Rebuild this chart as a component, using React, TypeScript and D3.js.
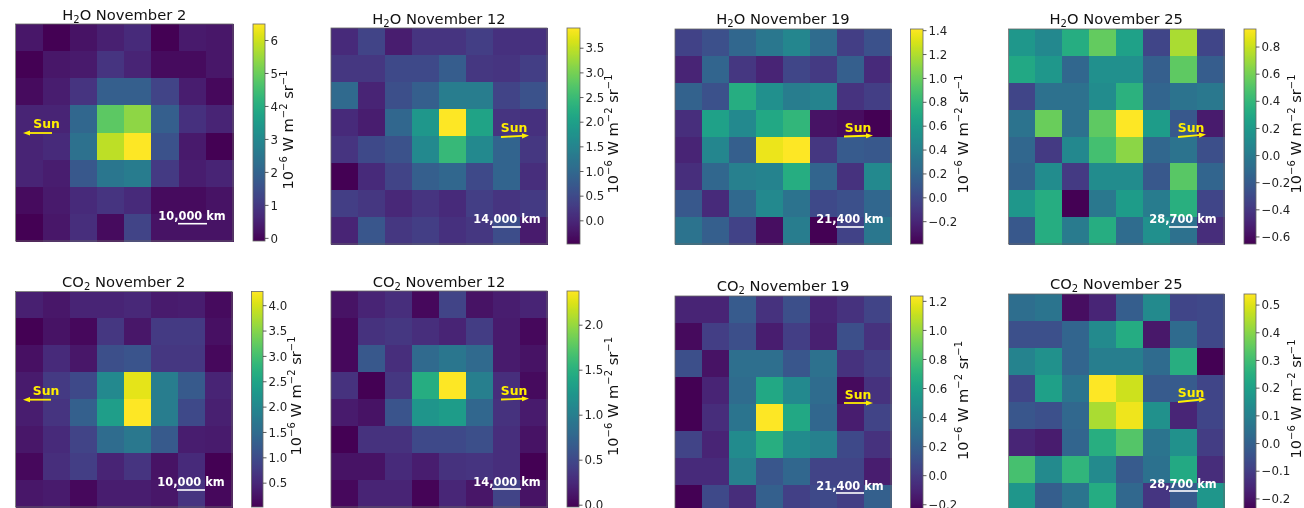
import React from "react";
import * as d3 from "d3";

const h2oNov2 = [
  [.31,-.08,.25,.51,.71,-.08,.38,.31],
  [-.08,.31,.38,.91,.58,.12,.12,.31],
  [.12,.45,.91,1.89,1.89,1.24,.45,.05],
  [.58,.58,2.09,4.85,5.38,1.89,.84,.58],
  [.58,.71,2.35,5.84,6.5,1.57,.38,-.08],
  [.58,.45,1.7,2.5,2.65,1.04,.45,.58],
  [.12,.38,.71,.91,.71,.12,.12,.25],
  [-.08,.31,.78,.12,1.24,.25,.25,.25],
];
const h2oNov12 = [
  [.06,.41,-.12,.19,.19,.32,.14,.14],
  [.23,.23,.49,.49,.80,.23,.19,.32],
  [1.02,-.03,.58,.84,1.37,1.37,.41,.63],
  [.06,-.12,.98,1.85,3.91,2.07,.19,.14],
  [.19,.49,.63,1.59,2.46,1.59,.93,.23],
  [-.47,.06,.41,.84,.98,.49,.93,.10],
  [.32,.23,.01,.19,.06,.32,.19,.27],
  [-.03,.71,.23,.32,.14,.23,.54,-.16],
];
const h2oNov19 = [
  [-.03,.05,.21,.33,.44,.24,-.06,.06],
  [-.21,.19,-.10,-.21,-.01,-.08,.15,-.17],
  [.17,.06,.73,.51,.37,.42,-.12,-.06],
  [-.15,.64,.46,.69,.80,-.30,-.33,-.39],
  [-.21,.44,.15,1.36,1.41,-.10,.12,.10],
  [-.15,.21,.39,.42,.73,.19,-.13,.46],
  [.10,-.17,.22,.46,.30,.01,.05,.21],
  [.30,.15,-.03,-.32,.37,-.39,-.03,.33],
];
const h2oNov25 = [
  [.19,.09,.33,.55,.25,-.33,.73,-.33],
  [.30,.19,-.13,.14,.14,-.18,.54,-.19],
  [-.33,-.07,-.07,.11,.36,-.14,-.05,-.02],
  [-.05,.57,-.07,.54,.93,.22,-.22,-.54],
  [-.13,-.38,.09,.46,.66,-.13,-.05,-.27],
  [-.16,.11,-.38,.11,.11,-.22,.52,-.14],
  [.19,.33,-.65,-.02,.22,.01,.35,-.33],
  [-.22,.33,0,.33,-.10,.14,-.07,-.45],
];
const co2Nov2 = [
  [.41,.29,.46,.46,.50,.33,.37,.16],
  [.03,.24,.12,.71,.29,.75,.75,.20],
  [.20,.54,.29,1.05,1.14,.71,.71,.12],
  [.33,.75,.97,2.03,4.11,1.82,1.22,.46],
  [.37,.67,1.31,2.4,4.28,1.82,.97,.41],
  [.29,.54,.88,1.52,1.73,1.22,.37,.33],
  [.12,.58,.80,.46,.67,.24,.54,.03],
  [.29,.33,.12,.37,.37,.29,.67,.12],
];
const co2Nov12 = [
  [.10,.22,.29,.03,.46,.10,.17,.22],
  [.03,.32,.36,.29,.22,.41,.15,.03],
  [.03,.63,.29,.80,.92,.80,.15,.10],
  [.32,-.02,.36,1.47,2.38,1.01,.29,.05],
  [.15,.10,.60,1.23,1.30,.77,.32,.15],
  [-.02,.32,.32,.51,.51,.56,.29,.10],
  [.10,.10,.27,.17,.32,.34,.29,-.02],
  [.03,.22,.22,0,.24,.12,.46,.10],
];
const co2Nov19 = [
  [-.10,-.10,.17,-.04,.11,-.10,-.04,.05],
  [-.21,.02,.11,-.13,.02,-.12,.11,-.04],
  [.11,-.18,.29,.29,.15,.30,-.04,.02],
  [-.25,-.10,.27,.64,.45,.27,-.21,-.04],
  [-.25,-.06,.32,1.24,.64,.24,-.13,.05],
  [.05,-.10,.46,.68,.46,.40,.08,-.04],
  [-.07,-.07,.39,.15,.24,.05,.05,-.13],
  [-.25,.08,-.06,.20,.03,.08,.02,.20],
];
const co2Nov25 = [
  [.04,.06,-.21,-.16,-.01,.13,-.08,-.07],
  [-.05,-.05,.01,.13,.24,-.19,.03,-.07],
  [.11,.15,.01,.09,.09,.03,.25,-.24],
  [-.08,.20,.06,.54,.48,-.02,-.02,-.08],
  [-.03,-.05,.02,.44,.52,.15,-.16,-.08],
  [-.16,-.18,.01,.25,.33,.06,.15,-.10],
  [.31,.13,.27,.13,-.02,.05,.23,-.14],
  [.17,-.01,.06,.24,.02,-.12,-.02,.17],
];

const ticks0 = [0,1,2,3,4,5,6];
const ticks1 = [0,.5,1,1.5,2,2.5,3,3.5];
const ticks2 = [-.2,0,.2,.4,.6,.8,1,1.2,1.4];
const ticks3 = [-.6,-.4,-.2,0,.2,.4,.6,.8];
const ticks4 = [.5,1,1.5,2,2.5,3,3.5,4];
const ticks5 = [0,.5,1,1.5,2];
const ticks6 = [-.2,0,.2,.4,.6,.8,1,1.2];
const ticks7 = [-.2,-.1,0,.1,.2,.3,.4,.5];

const panels = [
  { mol:"H", sub:"2", post:"O November 2", grid:h2oNov2, ticks:ticks0, fmt:"d", dom:[-.08,6.5], scale:"10,000 km",
    x0:15.5,x1:233,y0:24,y1:241,cb0:253,cb1:265,titleY:20,
    sun:[52,133,23,133,46.5,128], bar:[178,207,223.7,192,220], lab:[293,130] },
  { mol:"H", sub:"2", post:"O November 12", grid:h2oNov12, ticks:ticks1, fmt:".1f", dom:[-.47,3.91], scale:"14,000 km",
    x0:331,x1:547,y0:28,y1:244,cb0:567,cb1:580,titleY:24,
    sun:[501,137,529,135.5,514,132], bar:[492,521,227,507,223], lab:[618,134] },
  { mol:"H", sub:"2", post:"O November 19", grid:h2oNov19, ticks:ticks2, fmt:".1f", dom:[-.387,1.414], scale:"21,400 km",
    x0:675,x1:891,y0:29,y1:244,cb0:910.5,cb1:923,titleY:24,
    sun:[844,136.5,873,135.5,858,132], bar:[836,864,227,850,223], lab:[968,134] },
  { mol:"H", sub:"2", post:"O November 25", grid:h2oNov25, ticks:ticks3, fmt:".1f", dom:[-.652,.933], scale:"28,700 km",
    x0:1008.5,x1:1224,y0:29,y1:244,cb0:1244,cb1:1256,titleY:24,
    sun:[1178,137,1206,134.5,1191,132], bar:[1169,1198,227,1183,223], lab:[1300.5,134] },
  { mol:"CO", sub:"2", post:" November 2", grid:co2Nov2, ticks:ticks4, fmt:".1f", dom:[.03,4.28], scale:"10,000 km",
    x0:15.5,x1:232,y0:291.5,y1:507,cb0:251.5,cb1:263,titleY:287,
    sun:[51,399.7,23,399.7,46,395], bar:[177,205,490,191,486], lab:[301,396] },
  { mol:"CO", sub:"2", post:" November 12", grid:co2Nov12, ticks:ticks5, fmt:".1f", dom:[-.02,2.38], scale:"14,000 km",
    x0:331,x1:547,y0:291,y1:507,cb0:567,cb1:579,titleY:287,
    sun:[501,399.5,529,398.5,514,395], bar:[492,521,489,507,486], lab:[618,396.5] },
  { mol:"CO", sub:"2", post:" November 19", grid:co2Nov19, ticks:ticks6, fmt:".1f", dom:[-.25,1.237], scale:"21,400 km",
    x0:675,x1:891,y0:296,y1:512,cb0:910.5,cb1:923,titleY:291,
    sun:[844,403,873,403,858,399], bar:[836,864,493,850,490], lab:[968,400.5] },
  { mol:"CO", sub:"2", post:" November 25", grid:co2Nov25, ticks:ticks7, fmt:".1f", dom:[-.24,.54], scale:"28,700 km",
    x0:1008.5,x1:1224,y0:294,y1:510,cb0:1244,cb1:1256,titleY:289,
    sun:[1178,402,1206,399,1191,397], bar:[1169,1198,491,1183,488], lab:[1300.5,399] },
];

const FONT = "'DejaVu Sans', sans-serif";
const idx = d3.range(8);
const stops = d3.range(0, 1.0001, 0.01);
const YEL = "#ffee00";

function Panel({ p, i }: any) {
  const x = d3.scaleBand<number>().domain(idx).range([p.x0, p.x1]);
  const y = d3.scaleBand<number>().domain(idx).range([p.y0, p.y1]);
  const color = d3.scaleSequential(d3.interpolateViridis).domain(p.dom);
  const cy = d3.scaleLinear().domain(p.dom).range([p.y1, p.y0]);
  const fmt = d3.format(p.fmt);
  const [sx0, sy0, sx1, sy1, stx, sty] = p.sun;
  const [bx0, bx1, by, btx, bty] = p.bar;
  const ang = Math.atan2(sy1 - sy0, sx1 - sx0);
  const head = 7, hw = 2.6;
  const bx = sx1 - head * Math.cos(ang), byy = sy1 - head * Math.sin(ang);
  const nx = -Math.sin(ang) * hw, ny = Math.cos(ang) * hw;
  return (
    <g>
      <text x={(p.x0 + p.x1) / 2} y={p.titleY} textAnchor="middle" fontSize={14.7} fill="#111">
        {p.mol}<tspan fontSize={10} dy={3}>{p.sub}</tspan><tspan dy={-3}>{p.post}</tspan>
      </text>
      <g shapeRendering="crispEdges">
        {p.grid.map((row: number[], r: number) =>
          row.map((v: number, c: number) => (
            <rect key={c} x={x(c)} y={y(r)} width={x.bandwidth() + 0.5} height={y.bandwidth() + 0.5} fill={color(v)} />
          ))
        )}
      </g>
      <rect x={p.x0} y={p.y0} width={p.x1 - p.x0} height={p.y1 - p.y0} fill="none" stroke="#666" strokeWidth={0.8} />
      <linearGradient id={`cb${i}`} x1="0" x2="0" y1="1" y2="0">
        {stops.map((s) => (
          <stop key={s} offset={s} stopColor={d3.interpolateViridis(s)} />
        ))}
      </linearGradient>
      <rect x={p.cb0} y={p.y0} width={p.cb1 - p.cb0} height={p.y1 - p.y0} fill={`url(#cb${i})`} stroke="#666" strokeWidth={0.8} />
      {p.ticks.map((t: number) => (
        <g key={t}>
          <line x1={p.cb1} x2={p.cb1 + 3.5} y1={cy(t)} y2={cy(t)} stroke="#333" strokeWidth={0.8} />
          <text x={p.cb1 + 5.5} y={cy(t) + 4.2} fontSize={11.8} fill="#222">
            {fmt(t).replace("-", "\u2212")}
          </text>
        </g>
      ))}
      <text transform={`translate(${p.lab[0]},${p.lab[1]}) rotate(-90)`} textAnchor="middle" fontSize={14.6} fill="#111">
        10<tspan fontSize={10} dy={-6}>{"\u22126"}</tspan>
        <tspan dy={6}> W m</tspan><tspan fontSize={10} dy={-6}>{"\u22122"}</tspan>
        <tspan dy={6}> sr</tspan><tspan fontSize={10} dy={-6}>{"\u22121"}</tspan>
      </text>
      <line x1={sx0} y1={sy0} x2={bx} y2={byy} stroke={YEL} strokeWidth={1.8} />
      <polygon points={`${sx1},${sy1} ${bx + nx},${byy + ny} ${bx - nx},${byy - ny}`} fill={YEL} />
      <text x={stx} y={sty} textAnchor="middle" fontSize={12.4} fontWeight="bold" fill={YEL}>Sun</text>
      <line x1={bx0} x2={bx1} y1={by} y2={by} stroke="#fff" strokeWidth={1.6} />
      <text x={btx} y={bty} textAnchor="middle" fontSize={11.4} fontWeight="bold" fill="#fff">{p.scale}</text>
    </g>
  );
}

export default function App() {
  return (
    <svg width={1304} height={508} style={{ position: "absolute", left: 0, top: 0, background: "#fff", filter: "blur(0.35px)" }} fontFamily={FONT}>
      {panels.map((p, i) => (
        <Panel key={i} p={p} i={i} />
      ))}
    </svg>
  );
}
